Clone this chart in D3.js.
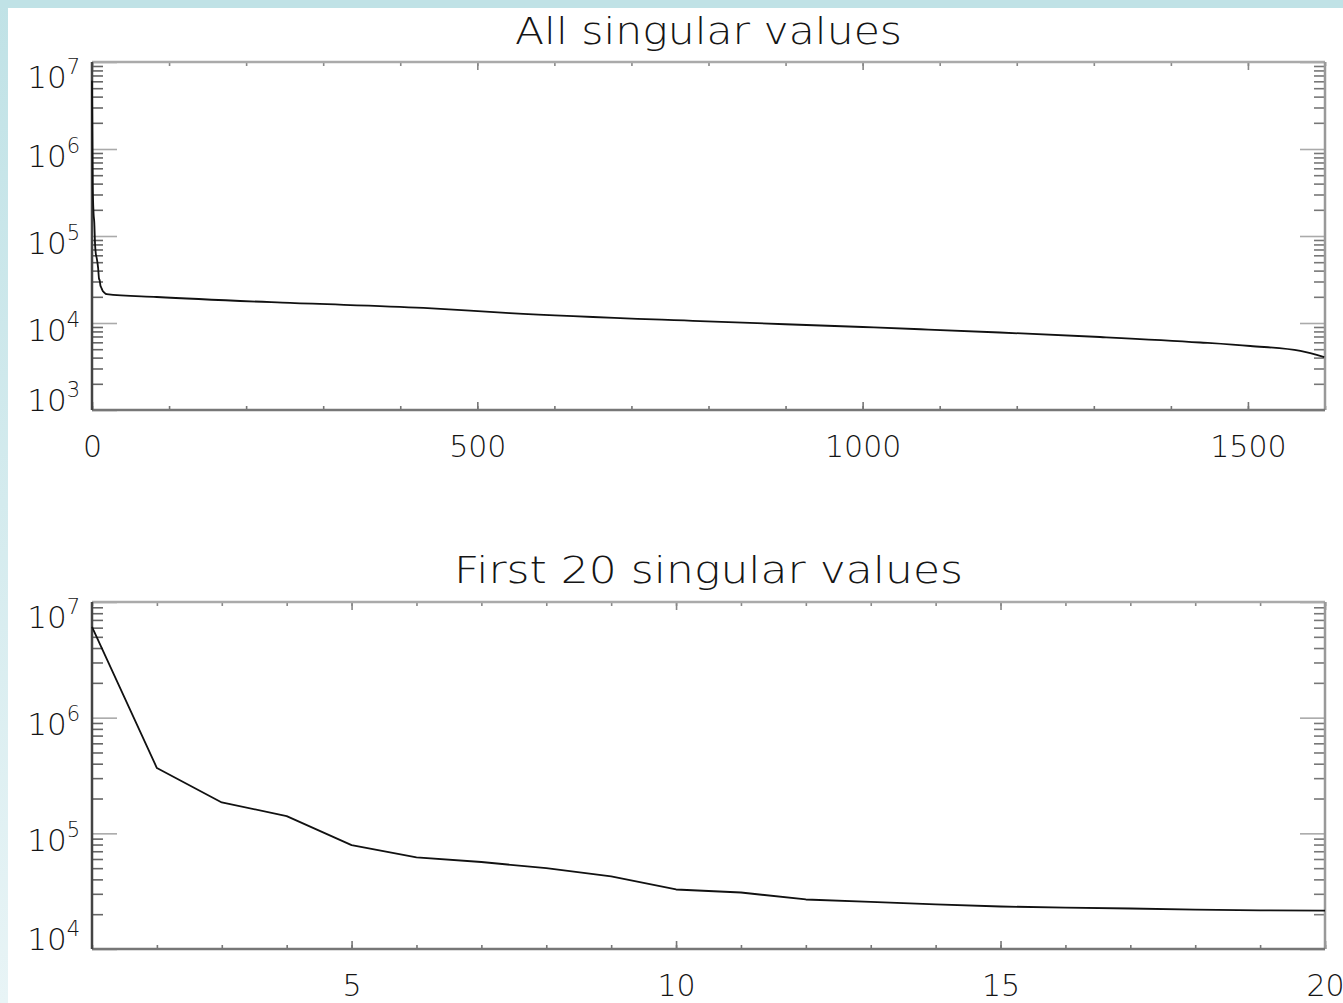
<!DOCTYPE html>
<html>
<head>
<meta charset="utf-8">
<script src="https://cdn.jsdelivr.net/npm/d3@7"></script>
<style>
  html, body { margin: 0; padding: 0; background: #ffffff; }
  svg { display: block; }
  text { font-family: "DejaVu Sans", sans-serif; fill: #151515; }
</style>
</head>
<body>
<svg id="chart" width="1343" height="1003"></svg>
<script>
// ---------------- data ----------------
const titleTop = "All singular values";
const titleBottom = "First 20 singular values";

// first 20 singular values (index 1..20)
const firstIdx = [1,2,3,4,5,6,7,8,9,10,11,12,13,14,15,16,17,18,19,20];
const firstVals = [6.1e6, 3.67e5, 1.85e5, 1.41e5, 7.9e4, 6.2e4, 5.65e4, 5.0e4, 4.24e4, 3.27e4,
                   3.08e4, 2.68e4, 2.56e4, 2.43e4, 2.33e4, 2.28e4, 2.24e4, 2.19e4, 2.16e4, 2.15e4];

// sampled points of the full spectrum beyond index 20 (0-based position, value)
const tailIdx = [84, 257, 430, 542, 789, 1000, 1075, 1178, 1308, 1438, 1503, 1568, 1599];
const tailVals = [1.99e4, 1.70e4, 1.49e4, 1.30e4, 1.05e4, 8.99e3, 8.47e3, 7.78e3, 6.9e3, 5.97e3, 5.44e3, 4.77e3, 4.06e3];

const topXTicks = [0, 500, 1000, 1500];
const topXMinor = d3.range(0, 1601, 100);
const topYDecades = [1e3, 1e4, 1e5, 1e6, 1e7];
const botXTicks = [5, 10, 15, 20];
const botXMinor = d3.range(1, 21, 1);
const botYDecades = [1e4, 1e5, 1e6, 1e7];

// ---------------- drawing ----------------
const svg = d3.select("#chart");
const W = 1343, H = 1003;

// teal frame
const defs = svg.append("defs");
const g1 = defs.append("linearGradient").attr("id", "leftband").attr("x1", 0).attr("y1", 0).attr("x2", 0).attr("y2", 1);
g1.append("stop").attr("offset", "0%").attr("stop-color", "#c0e2e6");
g1.append("stop").attr("offset", "100%").attr("stop-color", "#e8f4f6");
svg.append("rect").attr("x", 0).attr("y", 0).attr("width", W).attr("height", H).attr("fill", "#ffffff");
svg.append("rect").attr("x", 0).attr("y", 0).attr("width", 8).attr("height", H).attr("fill", "url(#leftband)");
svg.append("rect").attr("x", 0).attr("y", 0).attr("width", W).attr("height", 8).attr("fill", "#c0e2e6");

const L = 92, R = 1325;

function minorLogTicks(decades) {
  const out = [];
  for (let i = 0; i < decades.length - 1; i++) {
    for (let k = 2; k <= 9; k++) out.push(decades[i] * k);
  }
  return out;
}

function styleAxis(g, color) {
  g.select(".domain").remove();
  g.selectAll(".tick line").attr("stroke", color).attr("stroke-width", 1.6);
}

function panel(opts) {
  const { x, y, top, bottom, xTicks, xMinor, yDecades, title, titleWidth, titleBaseline, lineData, curve } = opts;
  const g = svg.append("g");

  // title
  g.append("text")
    .attr("x", (L + R) / 2).attr("y", titleBaseline)
    .attr("text-anchor", "middle")
    .attr("font-size", 38).attr("font-weight", 200)
    .attr("textLength", titleWidth).attr("lengthAdjust", "spacingAndGlyphs")
    .text(title);

  // y minor ticks left and right
  const yMinor = minorLogTicks(yDecades);
  const lm = g.append("g").attr("transform", `translate(${L},0)`)
    .call(d3.axisLeft(y).tickValues(yMinor).tickSize(-11).tickFormat(""));
  styleAxis(lm, "#666");
  const rm = g.append("g").attr("transform", `translate(${R},0)`)
    .call(d3.axisRight(y).tickValues(yMinor).tickSize(-11).tickFormat(""));
  styleAxis(rm, "#777");

  // y major ticks with labels (labels kept inside the plot's vertical span)
  const ly = g.append("g").attr("transform", `translate(${L},0)`)
    .call(d3.axisLeft(y).tickValues(yDecades).tickSize(-25).tickPadding(12));
  styleAxis(ly, "#aaa");
  ly.selectAll(".tick text")
    .attr("font-size", 31).attr("font-weight", 200).attr("fill", "#151515")
    .attr("font-family", "DejaVu Sans, sans-serif")
    .attr("dy", null)
    .attr("y", d => {
      const ty = y(d);
      const c = Math.max(top + 13, Math.min(bottom - 12, ty + 5));
      return c + 12 - ty;
    })
    .each(function(d) {
      const t = d3.select(this);
      t.text(null);
      t.append("tspan").text("10");
      t.append("tspan").attr("dy", -14).attr("font-size", 21).text(Math.round(Math.log10(d)));
    });
  const ry = g.append("g").attr("transform", `translate(${R},0)`)
    .call(d3.axisRight(y).tickValues(yDecades).tickSize(-25).tickFormat(""));
  styleAxis(ry, "#aaa");

  // x minor & major ticks bottom and top
  const bm = g.append("g").attr("transform", `translate(0,${bottom})`)
    .call(d3.axisBottom(x).tickValues(xMinor).tickSize(-4).tickFormat(""));
  styleAxis(bm, "#777");
  const tm = g.append("g").attr("transform", `translate(0,${top})`)
    .call(d3.axisTop(x).tickValues(xMinor).tickSize(-4).tickFormat(""));
  styleAxis(tm, "#888");
  const bx = g.append("g").attr("transform", `translate(0,${bottom})`)
    .call(d3.axisBottom(x).tickValues(xTicks).tickSize(-8).tickPadding(26).tickFormat(d3.format("d")));
  styleAxis(bx, "#777");
  bx.selectAll(".tick text").attr("font-size", 30).attr("font-weight", 200).attr("fill", "#151515")
    .attr("font-family", "DejaVu Sans, sans-serif");
  const tx = g.append("g").attr("transform", `translate(0,${top})`)
    .call(d3.axisTop(x).tickValues(xTicks).tickSize(-8).tickFormat(""));
  styleAxis(tx, "#888");

  // frame
  g.append("line").attr("x1", L).attr("x2", R).attr("y1", top).attr("y2", top).attr("stroke", "#aaa").attr("stroke-width", 2.5);
  g.append("line").attr("x1", R).attr("x2", R).attr("y1", top).attr("y2", bottom).attr("stroke", "#999").attr("stroke-width", 2.5);
  g.append("line").attr("x1", L).attr("x2", R).attr("y1", bottom).attr("y2", bottom).attr("stroke", "#777").attr("stroke-width", 2.5);
  g.append("line").attr("x1", L).attr("x2", L).attr("y1", top).attr("y2", bottom).attr("stroke", "#444").attr("stroke-width", 2.5);

  // data line
  const line = d3.line().x(d => x(d[0])).y(d => y(d[1])).curve(curve);
  g.append("path").datum(lineData)
    .attr("fill", "none").attr("stroke", "#111").attr("stroke-width", 1.8)
    .attr("stroke-linejoin", "round")
    .attr("d", line);
}

// top panel: all singular values (plotted at 0-based index)
const xTop = d3.scaleLinear().domain([0, 1600]).range([L, R]);
const yTop = d3.scaleLog().domain([1e3, 1e7]).range([410, 62]);
const topData = firstIdx.map((i, k) => [i - 1, firstVals[k]])
  .concat(tailIdx.map((i, k) => [i, tailVals[k]]));
panel({
  x: xTop, y: yTop, top: 62, bottom: 410,
  xTicks: topXTicks, xMinor: topXMinor, yDecades: topYDecades,
  title: titleTop, titleWidth: 387, titleBaseline: 44,
  lineData: topData, curve: d3.curveMonotoneX
});

// bottom panel: first 20 singular values
const xBot = d3.scaleLinear().domain([1, 20]).range([L, R]);
const yBot = d3.scaleLog().domain([1e4, 1e7]).range([949, 602]);
const botData = firstIdx.map((i, k) => [i, firstVals[k]]);
panel({
  x: xBot, y: yBot, top: 602, bottom: 949,
  xTicks: botXTicks, xMinor: botXMinor, yDecades: botYDecades,
  title: titleBottom, titleWidth: 509, titleBaseline: 583,
  lineData: botData, curve: d3.curveLinear
});
</script>
</body>
</html>
